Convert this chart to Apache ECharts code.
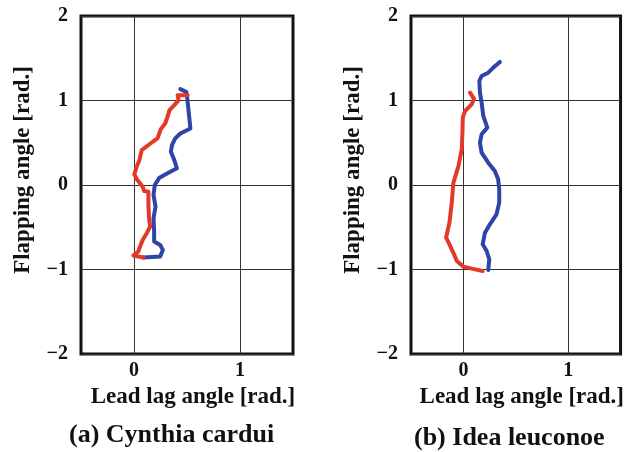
<!DOCTYPE html>
<html>
<head>
<meta charset="utf-8">
<script src="https://cdn.jsdelivr.net/npm/echarts@6/dist/echarts.min.js"></script>
<style>
  html, body { margin: 0; padding: 0; background: #fff; }
  #chart { width: 627px; height: 452px; }
</style>
</head>
<body>
<div id="chart"></div>
<script>
// (a) Cynthia cardui: [lead lag, flapping]
const cardBlue = [
  [0.437, 1.134], [0.494, 1.10], [0.50, 1.055], [0.516, 0.866], [0.532, 0.669],
  [0.437, 0.61], [0.389, 0.551], [0.358, 0.472], [0.348, 0.394], [0.38, 0.295],
  [0.405, 0.197], [0.316, 0.138], [0.24, 0.087], [0.196, 0], [0.184, -0.118],
  [0.203, -0.256], [0.184, -0.394], [0.19, -0.551], [0.19, -0.669], [0.247, -0.709],
  [0.272, -0.768], [0.247, -0.846], [0.089, -0.858]
]
const cardRed = [
  [0.506, 1.063], [0.411, 1.063], [0.421, 1.004], [0.38, 0.945], [0.335, 0.886],
  [0.316, 0.807], [0.294, 0.728], [0.253, 0.661], [0.222, 0.551], [0.177, 0.512],
  [0.073, 0.413], [0.051, 0.295], [0.025, 0.217], [0.003, 0.126], [0.032, 0.059],
  [0.082, -0.02], [0.095, -0.071], [0.136, -0.079], [0.136, -0.236], [0.142, -0.394],
  [0.152, -0.492], [0.12, -0.571], [0.082, -0.65], [0.057, -0.728], [0.041, -0.787],
  [-0.006, -0.835], [0.009, -0.858], [0.089, -0.858]
]
// (b) Idea leuconoe
const ideaBlue = [
  [0.348, 1.456], [0.323, 1.428], [0.285, 1.389], [0.237, 1.329], [0.174, 1.29],
  [0.152, 1.231], [0.158, 1.093], [0.174, 0.974], [0.19, 0.817], [0.228, 0.679],
  [0.174, 0.6], [0.158, 0.501], [0.174, 0.383], [0.237, 0.264], [0.30, 0.166],
  [0.332, 0.067], [0.342, -0.051], [0.342, -0.209], [0.316, -0.347], [0.253, -0.465],
  [0.206, -0.564], [0.184, -0.702], [0.222, -0.781], [0.247, -0.879], [0.237, -1.006]
]
const ideaRed = [
  [0.063, 1.093], [0.101, 1.022], [0.079, 0.955], [0.016, 0.876], [-0.006, 0.797],
  [-0.009, 0.619], [-0.016, 0.422], [-0.047, 0.225], [-0.095, 0.028], [-0.111, -0.209],
  [-0.133, -0.446], [-0.165, -0.623], [-0.133, -0.702], [-0.089, -0.82], [-0.063, -0.899],
  [0, -0.966], [0.079, -0.99], [0.184, -1.018]
]
const captions = ['(a) Cynthia cardui', '(b) Idea leuconoe']

const serif = 'Liberation Serif'
const red = '#e4382b'
const blue = '#2e44a6'

function xAxis(idx) {
  return {
    type: 'value', gridIndex: idx, min: -0.5, max: 1.5, interval: 0.5,
    name: 'Lead lag angle [rad.]', nameLocation: 'middle', nameGap: 30,
    nameTextStyle: { fontFamily: serif, fontWeight: 'bold', fontSize: 23, color: '#111', padding: [0, 0, 0, 12] },
    axisLine: { show: false }, axisTick: { show: false },
    axisLabel: {
      margin: 7, fontFamily: serif, fontWeight: 'bold', fontSize: 20, color: '#111',
      formatter: v => (Number.isInteger(v) ? String(v) : '')
    },
    splitLine: { show: true, lineStyle: { color: ['rgba(0,0,0,0)', '#333'], width: 1 } }
  }
}

function yAxis(idx) {
  return {
    type: 'value', gridIndex: idx, min: -2, max: 2, interval: 1,
    name: 'Flapping angle [rad.]', nameLocation: 'middle', nameGap: 46,
    nameTextStyle: { fontFamily: serif, fontWeight: 'bold', fontSize: 23, color: '#111', padding: [0, 0, 0, 30] },
    axisLine: { show: false }, axisTick: { show: false },
    axisLabel: {
      margin: 13, fontFamily: serif, fontWeight: 'bold', fontSize: 20, color: '#111',
      formatter: v => String(v).replace('-', '\u2212')
    },
    splitLine: { show: true, lineStyle: { color: '#333', width: 1 } }
  }
}

function line(data, color, idx) {
  return {
    type: 'line', data: data, xAxisIndex: idx, yAxisIndex: idx,
    showSymbol: false, symbol: 'none', smooth: false,
    lineStyle: { color: color, width: 4, cap: 'round', join: 'round' },
    animation: false
  }
}

const chart = echarts.init(document.getElementById('chart'))
chart.setOption({
  animation: false,
  grid: [
    { left: 81, top: 16, width: 212, height: 338, show: true, borderColor: '#111', borderWidth: 3 },
    { left: 411, top: 16, width: 211, height: 338, show: true, borderColor: '#111', borderWidth: 3 }
  ],
  xAxis: [xAxis(0), xAxis(1)],
  yAxis: [yAxis(0), yAxis(1)],
  series: [
    line(cardBlue, blue, 0),
    line(cardRed, red, 0),
    line(ideaBlue, blue, 1),
    line(ideaRed, red, 1)
  ],
  graphic: [
    { type: 'text', left: 173 - 104, top: 437 - 15, style: { text: captions[0], fontFamily: serif, fontWeight: 'bold', fontSize: 26, fill: '#111' } },
    { type: 'text', left: 516 - 102, top: 440 - 15, style: { text: captions[1], fontFamily: serif, fontWeight: 'bold', fontSize: 26, fill: '#111' } }
  ]
})
</script>
</body>
</html>
